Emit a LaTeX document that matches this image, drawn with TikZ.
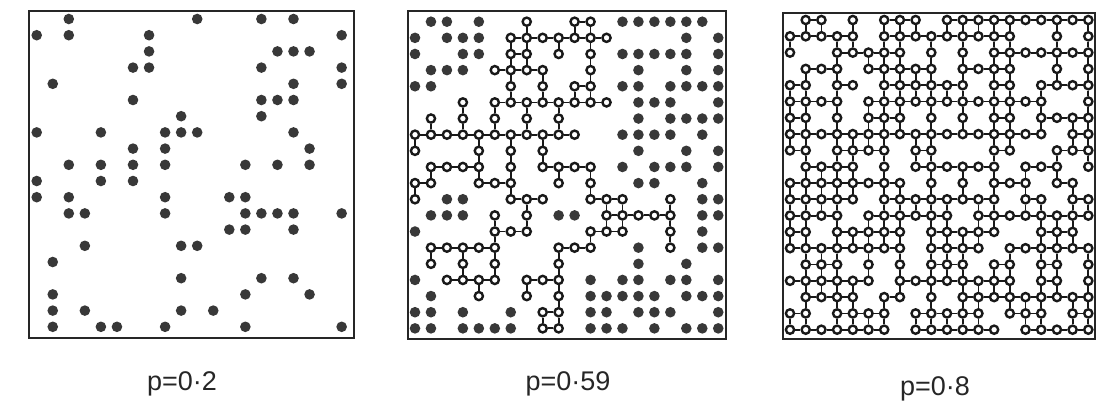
\documentclass[tikz,border=0pt]{standalone}
\usepackage{fontspec}
\setmainfont{Liberation Sans}
\tikzset{
  frame/.style={draw=black!85, line width=2pt},
  fdot/.style={circle, fill=black!78, inner sep=0pt, minimum size=10.6pt},
  odot/.style={circle, draw=black!90, line width=2.4pt, fill=white, inner sep=0pt, minimum size=8.2pt},
  bond/.style={draw=black!90, line width=1.8pt},
  lbl/.style={font=\fontsize{27}{27}\selectfont, anchor=base, text=black!85, inner sep=0pt}
}
% panel 1 (filled only)
\def\PoneF{0/{2,10,14,16},1/{0,2,7,19},2/{7,15,16,17},3/{6,7,14,19},4/{1,16,19},5/{6,14,15,16},6/{9,14},7/{0,4,8,9,10,16},8/{6,8,17},9/{2,4,6,8,13,15,17},10/{0,4,6},11/{0,2,8,12,13},12/{2,3,8,13,14,15,16,19},13/{12,13,16},14/{3,9,10},15/{1},16/{9,14,16},17/{1,13,17},18/{1,3,9,11},19/{1,4,5,8,13,19}}
% panel 2
\def\PtwoO{0/{7,10,11},1/{6,7,8,9,10,11,12},2/{6,7,9,11},3/{5,6,7,8,11},4/{6,8,10,11},5/{3,5,6,7,8,9,10,11,12},6/{1,3,5,7,9},7/{0,1,2,3,4,5,6,7,8,9,10},8/{0,4,6,8},9/{1,2,3,4,6,8,9,10,11},10/{0,1,4,5,6,9,11},11/{0,6,7,8,11,12,13,16},12/{5,7,12,13,14,15,16},13/{5,6,7,11,12,13,16},14/{1,2,3,4,5,9,10,11,16},15/{1,3,5,9},16/{2,3,4,5,7,8,9},17/{4,7,9},18/{8,9},19/{8,9}}
\def\PtwoF{0/{1,2,4,13,14,15,16,17,18},1/{0,2,3,4,17,19},2/{0,3,4,13,14,15,16,17,19},3/{1,2,3,14,17,19},4/{0,1,13,14,16,17,18,19},5/{14,15,16,19},6/{14,16,17,18,19},7/{13,14,15,16,18},8/{14,17,19},9/{13,15,16,17,19},10/{14,15,18},11/{2,3,18,19},12/{1,2,3,9,10,18,19},13/{0,18},14/{14,18,19},15/{14,17},16/{0,11,13,14,16,17,19},17/{1,11,12,13,14,15,17,18,19},18/{0,1,3,6,11,12,14,15,16,19},19/{0,1,3,4,5,6,11,12,13,15,17,18,19}}
% panel 3
\def\PthreeO{0/{1,2,4,6,7,8,10,11,12,13,14,15,16,17,18,19},1/{0,1,2,3,4,6,7,8,9,10,11,12,13,14,17,19},2/{0,3,4,5,6,7,9,11,13,14,15,16,17,18,19},3/{1,2,3,5,6,7,8,9,11,12,13,14,17,19},4/{0,1,3,4,6,7,8,9,10,11,13,14,16,17,18,19},5/{0,1,2,3,5,6,7,8,9,10,11,12,13,14,15,16,19},6/{0,1,3,5,6,7,9,11,13,14,16,17,18,19},7/{0,1,2,3,4,5,6,7,8,9,10,11,12,13,14,15,16,18,19},8/{0,1,3,4,5,6,8,9,13,14,17,18,19},9/{1,2,3,4,6,8,9,10,11,12,13,15,16,17,19},10/{0,1,2,3,4,5,6,7,9,11,13,14,15,17,18},11/{0,1,2,3,4,6,7,8,9,10,11,12,13,15,16,18,19},12/{0,1,2,3,5,6,7,8,9,10,12,13,14,15,16,17,18,19},13/{0,1,3,4,5,6,7,9,10,11,12,13,16,17,18},14/{0,1,2,3,4,5,6,7,9,10,11,12,14,15,16,17,18,19},15/{1,2,3,5,7,9,10,11,13,14,16,17,19},16/{0,1,2,3,4,5,7,8,9,10,11,12,13,14,16,17,19},17/{1,2,3,4,6,7,9,11,12,13,14,15,16,17,18,19},18/{0,1,3,4,5,6,8,9,10,11,12,14,15,16,18,19},19/{0,1,2,3,4,5,6,8,9,10,11,12,13,15,16,17,18,19}}
\begin{document}
\begin{tikzpicture}[x=1pt,y=-1pt]
\useasboundingbox (0,0) rectangle (1097,407);
% frames
\node[frame, draw, rectangle, minimum width=325pt, minimum height=327pt, anchor=north west, inner sep=0pt] (box1) at (28,10) {};
\node[frame, draw, rectangle, minimum width=318pt, minimum height=328pt, anchor=north west, inner sep=0pt] (box2) at (407,10) {};
\node[frame, draw, rectangle, minimum width=312pt, minimum height=326pt, anchor=north west, inner sep=0pt] (box3) at (782,12) {};
% panel 1
\foreach \rr/\cs in \PoneF {
  \foreach \cc in \cs {
    \node[fdot] (a-\rr-\cc) at ({36.7+16.05*\cc},{19+16.2*\rr}) {};
  }
}
% panel 2 filled
\foreach \rr/\cs in \PtwoF {
  \foreach \cc in \cs {
    \node[fdot] (bf-\rr-\cc) at ({415+15.96*\cc},{21.7+16.14*\rr}) {};
  }
}
% panel 2 open
\foreach \rr/\cs in \PtwoO {
  \foreach \cc in \cs {
    \node[odot] (b-\rr-\cc) at ({415+15.96*\cc},{21.7+16.14*\rr}) {};
    \expandafter\xdef\csname occB-\rr-\cc\endcsname{1}
  }
}
\foreach \rr/\cs in \PtwoO {
  \foreach \cc in \cs {
    \pgfmathtruncatemacro\cn{\cc+1}
    \pgfmathtruncatemacro\rn{\rr+1}
    \ifcsname occB-\rr-\cn\endcsname \draw[bond] (b-\rr-\cc) -- (b-\rr-\cn); \fi
    \ifcsname occB-\rn-\cc\endcsname \draw[bond] (b-\rr-\cc) -- (b-\rn-\cc); \fi
  }
}
% panel 3 open
\foreach \rr/\cs in \PthreeO {
  \foreach \cc in \cs {
    \node[odot] (c-\rr-\cc) at ({790+15.7*\cc},{20+16.3*\rr}) {};
    \expandafter\xdef\csname occC-\rr-\cc\endcsname{1}
  }
}
\foreach \rr/\cs in \PthreeO {
  \foreach \cc in \cs {
    \pgfmathtruncatemacro\cn{\cc+1}
    \pgfmathtruncatemacro\rn{\rr+1}
    \ifcsname occC-\rr-\cn\endcsname \draw[bond] (c-\rr-\cc) -- (c-\rr-\cn); \fi
    \ifcsname occC-\rn-\cc\endcsname \draw[bond] (c-\rr-\cc) -- (c-\rn-\cc); \fi
  }
}
% labels
\node[lbl] (l1) at (182,390) {p=0·2};
\node[lbl] (l2) at (568,390) {p=0·59};
\node[lbl] (l3) at (935,395) {p=0·8};
\end{tikzpicture}
\end{document}
